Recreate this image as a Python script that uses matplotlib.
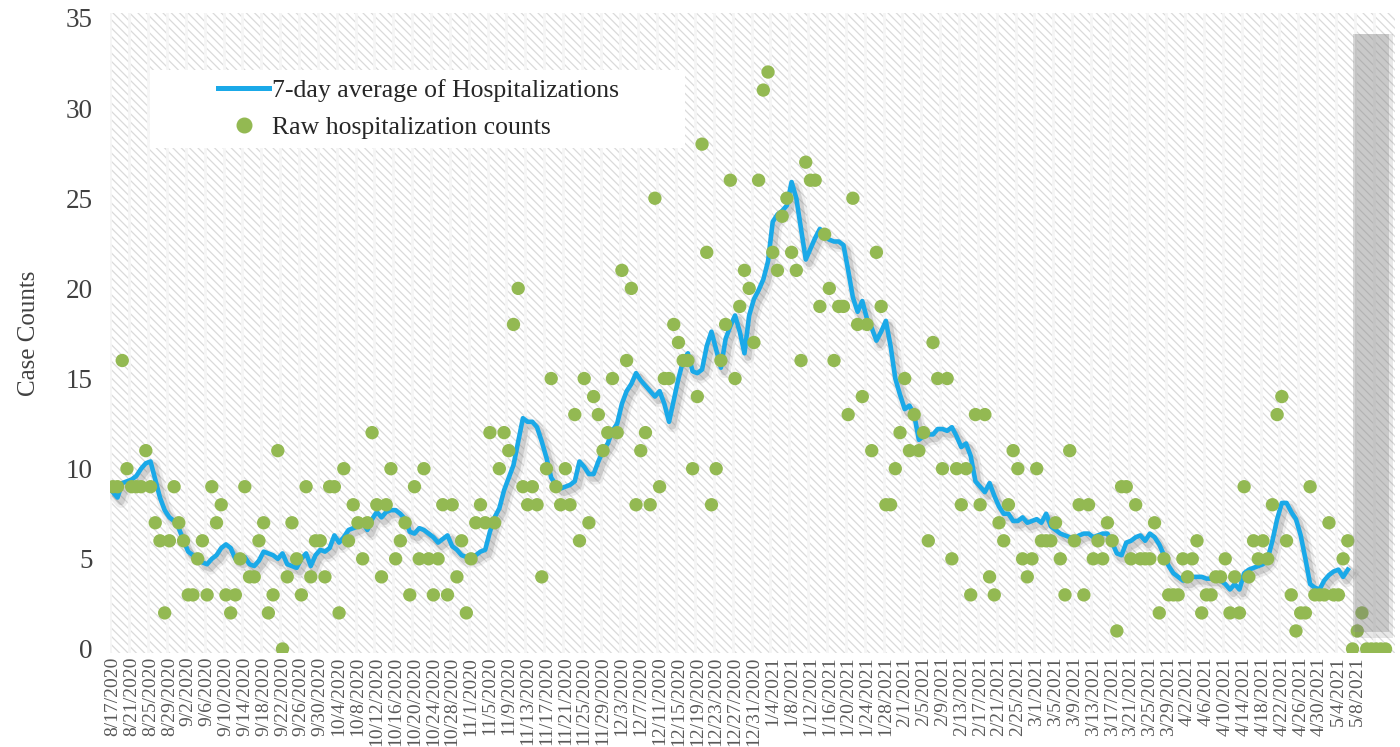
import matplotlib
matplotlib.use("Agg")
import matplotlib.pyplot as plt
import matplotlib.patheffects as pe
from matplotlib.patches import Rectangle
from matplotlib.lines import Line2D
import numpy as np
import pandas as pd

plt.rcParams['hatch.linewidth'] = 0.9
plt.rcParams['font.family'] = ['Liberation Serif', 'DejaVu Serif']

start_date = '2020-08-17'

# daily raw hospitalization counts, 8/17/2020 ...
raw_counts = [
    9, 9, 16, 10, 9, 9, 9, 11, 9, 7, 6, 2, 6, 9, 7, 6, 3, 3, 5, 6,
    3, 9, 7, 8, 3, 2, 3, 5, 9, 4, 4, 6, 7, 2, 3, 11, 0,
    4, 7, 5, 3, 9, 4, 6, 6, 4, 9, 9, 2, 10, 6, 8, 7, 5, 7, 12, 8,
    4, 8, 10, 5, 6, 7, 3, 9, 5, 10, 5, 3, 5, 8, 3, 8, 4, 6, 2, 5,
    7, 8, 7, 12, 7, 10, 12, 11, 18, 20, 9, 8, 9, 8, 4, 10, 15, 9, 8, 10,
    8, 13, 6, 15, 7, 14, 13, 11, 12, 15, 12, 21, 16, 20, 8, 11, 12, 8, 25, 9,
    15, 15, 18, 17, 16, 16, 10, 14, 28, 22, 8, 10, 16, 18, 26, 15, 19, 21, 20, 17,
    26, 31, 32, 22, 21, 24, 25,
    22, 21, 16, 27, 26, 26, 19, 23, 20, 16, 19, 19, 13, 25, 18, 14, 18, 11, 22, 19,
    8, 8, 10, 12, 15, 11, 13, 11, 12, 6, 17, 15, 10, 15, 5,
    10, 8, 10, 3, 13, 8, 13, 4, 3, 7, 6, 8, 11, 10, 5, 4, 5, 10, 6, 6,
    6, 7, 5, 3, 11, 6, 8, 3, 8, 5, 6, 5, 7, 6,
    1, 9, 9, 5, 8, 5, 5, 5, 7, 2, 5, 3, 3, 3, 5, 4, 5, 6, 2, 3,
    3, 4, 4, 5, 2, 4, 2, 9, 4, 6, 5, 6, 5, 8, 13, 14, 6, 3, 1, 2, 2,
    9, 3, 3, 3, 7, 3, 3, 5, 6, 0, 1, 2, 0, 0, 0, 0, 0,
]

# 7-day average
avg_7day = [
    8.7, 8.4, 9.2, 9.3, 9.4, 9.6, 10.0, 10.3, 10.4, 9.4,
    8.4, 7.7, 7.3, 7.1, 6.7, 6.0, 5.4, 5.2, 5.2, 4.8,
    4.7, 5.0, 5.2, 5.6, 5.8, 5.6, 5.0, 4.9, 5.1, 4.7,
    4.6, 4.9, 5.4, 5.3, 5.2, 5.0, 5.3, 4.7, 4.6, 4.5,
    5.0, 5.3, 4.6, 5.2, 5.5, 5.4, 5.6, 6.3, 5.9, 6.2,
    6.6, 6.7, 6.8, 7.0, 6.6, 7.2, 7.6, 7.3, 7.6, 7.7,
    7.7, 7.5, 7.2, 6.5, 6.4, 6.7, 6.6, 6.4, 6.2, 5.9,
    6.1, 6.3, 5.7, 5.5, 5.2, 5.1, 5.1, 5.2, 5.4, 5.5,
    6.5, 7.3, 7.8, 8.8, 9.5, 10.2, 11.5, 12.8, 12.6, 12.6,
    12.3, 11.5, 10.6, 9.5, 9.1, 8.9, 9.0, 9.1, 9.3, 10.4,
    10.1, 9.7, 9.7, 10.4, 11.0, 11.4, 12.1, 12.5, 13.6, 14.3,
    14.7, 15.3, 14.9, 14.6, 14.3, 14.0, 14.3, 13.6, 12.6, 13.8,
    15.0, 16.0, 16.4, 15.4, 15.3, 15.5, 16.8, 17.6, 16.6, 15.6,
    17.2, 17.9, 18.5, 17.6, 16.4, 18.5, 19.4, 19.9, 20.5, 21.5,
    23.7, 24.1, 24.3, 24.6, 25.9, 25.0, 23.3, 21.6, 22.2, 22.8,
    23.3, 22.9, 22.7, 22.6, 22.6, 22.4, 21.0, 19.5, 18.7, 19.3,
    18.3, 17.8, 17.1, 17.6, 18.2, 16.8, 15.0, 14.1, 13.3, 13.5,
    13.0, 11.6, 11.8, 11.9, 11.9, 12.2, 12.2, 12.1, 12.3, 11.8,
    11.2, 11.4, 10.7, 9.3, 9.0, 8.7, 9.2, 8.5, 7.9, 7.5,
    7.5, 7.1, 7.1, 7.3, 7.0, 7.1, 7.2, 7.0, 7.5, 6.8,
    6.6, 6.4, 6.3, 6.2, 6.1, 6.3, 6.4, 6.4, 6.2, 6.3,
    6.4, 6.4, 5.9, 5.3, 5.2, 5.9, 6.0, 6.2, 6.3, 6.0,
    6.4, 6.2, 5.8, 5.2, 4.6, 4.2, 4.0, 3.8, 3.8, 4.0,
    4.0, 4.0, 3.9, 3.9, 3.9, 3.8, 3.6, 3.3, 3.6, 3.3,
    4.2, 4.4, 4.5, 4.6, 4.7, 5.0, 6.0, 7.2, 8.1, 8.1,
    7.6, 7.2, 6.3, 5.0, 3.6, 3.4, 3.3, 3.8, 4.1, 4.3,
    4.4, 4.0, 4.4,
    None, None, None, None, None, None, None, None,
]

dates = pd.date_range(start_date, periods=len(raw_counts))
labels = [f"{d.month}/{d.day}/{d.year}" for d in dates]
x = np.arange(len(raw_counts))
avg = np.array([np.nan if v is None else v for v in avg_7day])
tick_idx = list(range(0, 265, 4))

fig = plt.figure(figsize=(14, 7.47), dpi=100)
ax = fig.add_axes([0.0789, 0.1264, 0.9175, 0.8556])

# hatched background
ax.add_patch(Rectangle((0, 0), 1, 1, transform=ax.transAxes, facecolor='white',
                       edgecolor='#dadada', hatch='\\\\\\\\', lw=0, zorder=0))
for t in range(0, 272, 4):
    ax.axvline(t - 0.5, color='#f5f5f5', lw=2, zorder=1)

line_fx = [pe.SimpleLineShadow(offset=(2.5, -3), shadow_color='#777777', alpha=0.12, linewidth=9),
           pe.SimpleLineShadow(offset=(2.5, -3), shadow_color='#777777', alpha=0.25, linewidth=5),
           pe.Normal()]
ax.plot(x, avg, color='#1aa9e8', lw=3.3, zorder=3, path_effects=line_fx,
        solid_joinstyle='round')
ax.scatter(x, raw_counts, s=92, color='#93b952', edgecolors='none', zorder=4)

# shaded box over the most recent days
ax.add_patch(Rectangle((263.6, 0.6), 7.9, 33.5, facecolor='#444444', alpha=0.12,
                       edgecolor='none', zorder=5))
ax.add_patch(Rectangle((263.0, 0.95), 7.8, 33.15, facecolor='#8c8c8c', alpha=0.33,
                       edgecolor='none', zorder=5))

ax.set_xlim(-0.5, 272)
ax.set_ylim(-0.2, 35.25)
ax.set_yticks(range(0, 36, 5))
ax.set_xticks(tick_idx)
ax.set_xticklabels([labels[i] for i in tick_idx], rotation=90, fontsize=14,
                   color='#595959')
ax.tick_params(axis='y', labelsize=19.5, colors='#404040', length=0, pad=13)
ax.tick_params(axis='x', length=0, pad=3)
for s in ax.spines.values():
    s.set_visible(False)
ax.set_ylabel('Case Counts', fontsize=18, color='#404040', labelpad=18)

# legend box
ax.add_patch(Rectangle((0.0308, 0.7895), 0.4165, 0.122, transform=ax.transAxes,
                       facecolor='white', edgecolor='none', zorder=6))
handles = [Line2D([0], [0], color='#1aa9e8', lw=3.6),
           Line2D([0], [0], color='#93b952', marker='o', markersize=10.5, lw=0)]
leg = ax.legend(handles, ['7-day average of Hospitalizations', 'Raw hospitalization counts'],
                loc='upper left', bbox_to_anchor=(0.0837, 0.898), frameon=False,
                fontsize=18.5, handlelength=2.0, handletextpad=0.1, labelspacing=0.56,
                borderpad=0, borderaxespad=0)
leg.set_zorder(7)
for t in leg.get_texts():
    t.set_color('#262626')

fig.savefig('out.png', dpi=100)
